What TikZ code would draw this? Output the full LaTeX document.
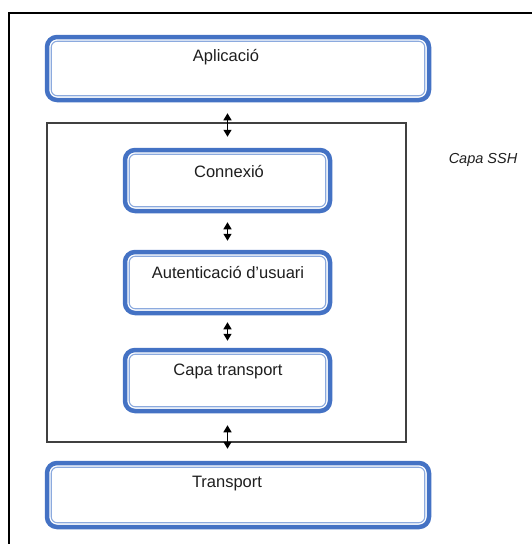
\documentclass[tikz,border=0pt]{standalone}
\usepackage{fontspec}
\setmainfont{Liberation Sans}
\usetikzlibrary{arrows.meta,calc}
\definecolor{layerblue}{RGB}{68,114,196}
\definecolor{layerinner}{RGB}{140,170,222}
\definecolor{txtgray}{RGB}{30,30,30}
\tikzset{
  layer/.style={draw=layerblue, line width=4.5pt, rounded corners=10pt, inner sep=0pt, fill=white},
  innerline/.style={draw=layerinner, line width=1.1pt, rounded corners=6pt},
  lbl/.style={text=txtgray, font=\fontsize{16.5}{18}\selectfont, inner sep=0pt},
  biarrow/.style={{Triangle[length=7pt,width=8pt]}-{Triangle[length=7pt,width=8pt]}, line width=1.3pt, black},
  sshframe/.style={draw=black!75, line width=1.2pt}
}
\newcommand{\innerborder}[1]{%
  \draw[innerline] ([shift={(6.5pt,-6.5pt)}]#1.north west) rectangle ([shift={(-6.5pt,6.5pt)}]#1.south east);}
\begin{document}
\begin{tikzpicture}[x=1pt,y=-1pt]
  \useasboundingbox (0,0) rectangle (531,544);
  % outer frame
  \draw[black, line width=1.5pt] (9,560) -- (9,13) -- (560,13);
  % SSH layer frame
  \node[sshframe, minimum width=359, minimum height=319, inner sep=0pt] (ssh) at (226.5,282.5) {};
  \node[font=\fontsize{14.5}{16}\itshape, text=txtgray, inner sep=0pt] (sshlbl) at (483,160) {Capa SSH};

  % layer boxes
  \node[layer, minimum width=382, minimum height=63] (app) at (238,68.5) {};
  \innerborder{app}
  \node[layer, minimum width=205, minimum height=61] (conn) at (227.5,180.5) {};
  \innerborder{conn}
  \node[layer, minimum width=205, minimum height=61] (auth) at (227.5,282.5) {};
  \innerborder{auth}
  \node[layer, minimum width=205, minimum height=61] (tlay) at (227.5,380.5) {};
  \innerborder{tlay}
  \node[layer, minimum width=382, minimum height=64] (tran) at (238,495) {};
  \innerborder{tran}

  % labels
  \node[lbl] (appT) at (226,57) {Aplicació};
  \node[lbl] (connT) at (229,172) {Connexió};
  \node[lbl] (authT) at (228,273) {Autenticació d’usuari};
  \node[lbl] (tlayT) at (228,371) {Capa transport};
  \node[lbl] (tranT) at (227,484) {Transport};

  % connectors between layers
  \draw[biarrow] ([yshift=-11pt]conn.north |- app.south) -- ([yshift=11pt]conn.north);
  \draw[biarrow] ([yshift=-9pt]conn.south) -- ([yshift=9pt]auth.north);
  \draw[biarrow] ([yshift=-7pt]auth.south) -- ([yshift=7pt]tlay.north);
  \draw[biarrow] ([yshift=-12pt]tlay.south) -- ([yshift=12pt]tlay.south |- tran.north);
\end{tikzpicture}
\end{document}
